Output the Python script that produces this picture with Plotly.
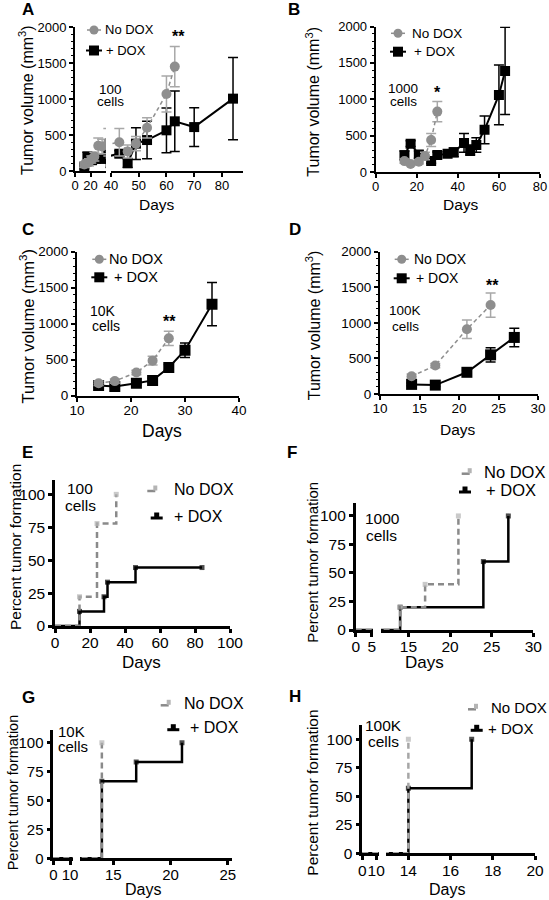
import plotly.graph_objects as go

W, H = 549, 900
FONT = "Arial, 'Liberation Sans', Helvetica, sans-serif"
GREY = "#8e8e8e"
GREY_ERR = "#a8a8a8"
KM_GREY = "#8a8a8a"
KM_GREY_MK = "#b4b4b4"
BLACK = "#000000"

# ---------------- data ----------------
# A: 100 cells
a_nd_days = [12, 15, 18, 21, 25, 30, 35, 43, 46, 49, 53, 60, 63]
a_nd_vol = [90, 110, 120, 160, 200, 350, 340, 400, 270, 380, 600, 1070, 1450]
a_nd_err = [40, 40, 50, 50, 60, 110, 100, 190, 90, 100, 140, 250, 280]
a_dx_days = [12, 16, 22, 27, 35, 43, 46, 49, 53, 60, 63, 70, 84]
a_dx_vol = [60, 200, 150, 170, 170, 240, 110, 380, 430, 565, 690, 610, 1005]
a_dx_err = [30, 60, 50, 40, 60, 40, 60, 220, 260, 310, 420, 270, 570]
# B: 1000 cells
b_nd_days = [14, 17, 21, 24, 27, 30]
b_nd_vol = [150, 110, 140, 220, 440, 830]
b_nd_err = [30, 20, 30, 50, 90, 140]
b_dx_days = [14, 17, 21, 27, 30, 35, 38, 43, 46, 49, 53, 60, 63]
b_dx_vol = [230, 390, 240, 150, 235, 250, 270, 400, 300, 370, 580, 1060, 1390]
b_dx_err = [60, 40, 50, 30, 40, 30, 60, 130, 70, 100, 190, 410, 600]
# C: 10K cells
c_nd_days = [14, 17, 21, 24, 27]
c_nd_vol = [170, 200, 320, 485, 795]
c_nd_err = [30, 30, 30, 60, 100]
c_dx_days = [14, 17, 21, 24, 27, 30, 35]
c_dx_vol = [140, 125, 170, 210, 390, 630, 1270]
c_dx_err = [25, 20, 25, 30, 40, 100, 300]
# D: 100K cells
d_nd_days = [14, 17, 21, 24]
d_nd_vol = [250, 400, 910, 1250]
d_nd_err = [30, 30, 130, 170]
d_dx_days = [14, 17, 21, 24, 27]
d_dx_vol = [135, 125, 305, 550, 795]
d_dx_err = [20, 20, 30, 100, 130]
# E-H: percent tumor formation (step curves)
e_nd_days = [0, 14, 24, 35]
e_nd_pct = [0, 22.2, 77.8, 100]
e_dx_days = [0, 14, 28, 30, 46, 84]
e_dx_pct = [0, 11.1, 22.2, 33.3, 44.4, 44.4]
f_nd_days = [0, 14, 17, 21]
f_nd_pct = [0, 20, 40, 100]
f_dx_days = [0, 14, 24, 27]
f_dx_pct = [0, 20, 60, 100]
g_nd_days = [0, 14]
g_nd_pct = [0, 100]
g_dx_days = [0, 14, 17, 21]
g_dx_pct = [0, 66.7, 83.3, 100]
h_nd_days = [0, 14]
h_nd_pct = [0, 100]
h_dx_days = [0, 14, 17]
h_dx_pct = [0, 57.1, 100]

labels = ["No DOX", "+ DOX"]

# ---------------- layout helpers ----------------
fig = go.Figure()
layout = dict(width=W, height=H, margin=dict(l=0, r=0, t=0, b=0),
              paper_bgcolor="white", plot_bgcolor="rgba(0,0,0,0)",
              showlegend=False, font=dict(family=FONT, color="black"))
annotations = []
shapes = []
cnt = {"x": 0, "y": 0}


def nm(kind, i):
    return kind + ("" if i == 1 else str(i))


def lay(kind, i):
    return kind + "axis" + ("" if i == 1 else str(i))


def add_panel(ypx, yrange, ydtick, xsegs, tf, lw, minor=None):
    cnt["y"] += 1
    yid = cnt["y"]
    xids = []
    for (x0, x1, xr, xt) in xsegs:
        cnt["x"] += 1
        xids.append(cnt["x"])
        layout[lay("x", cnt["x"])] = dict(
            domain=[x0 / W, x1 / W], range=xr, tickmode="array", tickvals=xt,
            anchor=nm("y", yid), showline=True, linewidth=lw, linecolor="black",
            ticks="outside", ticklen=4, tickwidth=lw, tickcolor="black",
            tickangle=0, ticklabelstandoff=-3,
            tickfont=dict(size=tf, family=FONT, color="black"),
            showgrid=False, zeroline=False, automargin=False, fixedrange=True)
    yd = dict(domain=[1 - ypx[1] / H, 1 - ypx[0] / H], range=yrange,
              tick0=0, dtick=ydtick, anchor=nm("x", xids[0]), showline=True,
              linewidth=lw, linecolor="black", ticks="outside", ticklen=4,
              tickwidth=lw, tickcolor="black",
              tickfont=dict(size=tf, family=FONT, color="black"),
              showgrid=False, zeroline=False, automargin=False, fixedrange=True)
    if minor:
        yd["minor"] = dict(dtick=minor, tick0=0, ticklen=2, tickwidth=1,
                           ticks="outside", tickcolor="black", showgrid=False)
    layout[lay("y", yid)] = yd
    return [(nm("x", i), nm("y", yid)) for i in xids]


def add_series(refs, x, y, err, color, errcolor, symbol, msize, dash, lw):
    for xr, yr in refs:
        fig.add_trace(go.Scatter(
            x=x, y=y, xaxis=xr, yaxis=yr, mode="lines+markers",
            line=dict(color=color, width=lw, dash=dash),
            marker=dict(symbol=symbol, size=msize, color=color, line=dict(width=0)),
            error_y=dict(type="data", array=err, color=errcolor, thickness=1.5, width=5),
            cliponaxis=True, hoverinfo="skip"))


def add_km(refs, x, y, color, mkcolor, dash, lw):
    sizes = [0] + [5] * (len(x) - 1)
    for xr, yr in refs:
        fig.add_trace(go.Scatter(
            x=x, y=y, xaxis=xr, yaxis=yr, mode="lines+markers",
            line=dict(color=color, width=lw, dash=dash, shape="hv"),
            marker=dict(symbol="square", size=sizes, color=mkcolor, line=dict(width=0)),
            cliponaxis=True, hoverinfo="skip"))


def text(px, py, s, size, xanchor="center", angle=0, bold=False):
    annotations.append(dict(
        x=px / W, y=1 - py / H, xref="paper", yref="paper",
        text=("<b>%s</b>" % s) if bold else s, showarrow=False,
        font=dict(size=size, family=FONT, color="black"),
        xanchor=xanchor, yanchor="middle", textangle=angle))


def rect(cx, cy, w, h, color, kind="rect"):
    shapes.append(dict(type=kind, xref="paper", yref="paper",
                       x0=(cx - w / 2) / W, x1=(cx + w / 2) / W,
                       y0=1 - (cy + h / 2) / H, y1=1 - (cy - h / 2) / H,
                       fillcolor=color, line=dict(width=0)))


def hline(x0, x1, y, color, width, dash="solid"):
    shapes.append(dict(type="line", xref="paper", yref="paper",
                       x0=x0 / W, x1=x1 / W, y0=1 - y / H, y1=1 - y / H,
                       line=dict(color=color, width=width, dash=dash)))


def legend_ad(cx, cy1, tx1, cy2, tx2, size):
    hline(cx - 7, cx + 7, cy1, GREY, 1.5)
    rect(cx, cy1, 9, 9, GREY, "circle")
    text(tx1, cy1, labels[0], size, xanchor="left")
    hline(cx - 8, cx + 8, cy2, BLACK, 2)
    rect(cx, cy2, 10, 10, BLACK)
    text(tx2, cy2, labels[1], size, xanchor="left")


def legend_km(cx1, cy1, tx1, cx2, cy2, tx2, size):
    hline(cx1 - 6, cx1 + 2, cy1 + 2, KM_GREY, 2.5)
    rect(cx1 + 2, cy1 - 1, 4, 5, KM_GREY_MK)
    text(tx1, cy1, labels[0], size, xanchor="left")
    hline(cx2 - 6, cx2 + 6, cy2 + 2, BLACK, 3)
    rect(cx2, cy2 - 1, 5, 5, BLACK)
    text(tx2, cy2, labels[1], size, xanchor="left")


YT = "Tumor volume (mm<sup>3</sup>)"
PT = "Percent tumor formation"

# ---------------- panel A ----------------
refA = add_panel((27, 171), [0, 2000], 500,
                 [(75, 106, [0, 40], [0, 20]),
                  (111, 243, [40, 87.6], [40, 50, 60, 70, 80])], 13, 2, minor=100)
add_series(refA, a_dx_days, a_dx_vol, a_dx_err, BLACK, BLACK, "square", 10, "solid", 2)
add_series(refA, a_nd_days, a_nd_vol, a_nd_err, GREY, GREY_ERR, "circle", 10, "4px,3px", 1.5)
text(28, 10, "A", 17, bold=True)
text(26, 100, YT, 16, angle=-90)
text(157, 204, "Days", 15.5)
legend_ad(94, 30, 103, 50.5, 104, 13)
text(110, 89, "100", 13.5)
text(110, 101.5, "cells", 13.5)
text(178, 36, "**", 16, bold=True)

# ---------------- panel B ----------------
refB = add_panel((26.5, 172), [0, 2000], 500,
                 [(375.7, 540, [0, 80], [0, 20, 40, 60, 80])], 13, 2, minor=100)
add_series(refB, b_dx_days, b_dx_vol, b_dx_err, BLACK, BLACK, "square", 10, "solid", 2)
add_series(refB, b_nd_days, b_nd_vol, b_nd_err, GREY, GREY_ERR, "circle", 10, "4px,3px", 1.5)
text(293.5, 10, "B", 17, bold=True)
text(312.7, 102, YT, 16, angle=-90)
text(461, 204, "Days", 15.5)
legend_ad(398, 33.3, 410, 51.7, 412, 13.5)
text(403, 88.5, "1000", 13.5)
text(403, 101.5, "cells", 13.5)
text(437.7, 93, "*", 16, bold=True)

# ---------------- panel C ----------------
refC = add_panel((251.7, 395.5), [0, 2000], 500,
                 [(77, 239, [10, 40], [10, 20, 30, 40])], 13.5, 2, minor=100)
add_series(refC, c_dx_days, c_dx_vol, c_dx_err, BLACK, BLACK, "square", 11, "solid", 2)
add_series(refC, c_nd_days, c_nd_vol, c_nd_err, GREY, GREY_ERR, "circle", 10, "4px,3px", 1.5)
text(28, 230, "C", 17, bold=True)
text(26.7, 326.7, YT, 16.5, angle=-90)
text(162, 430.7, "Days", 17.5)
legend_ad(99.3, 259.3, 107.3, 277.3, 112, 14.5)
text(103.3, 310.7, "10K", 14)
text(106, 326, "cells", 14)
text(170, 321, "**", 16, bold=True)

# ---------------- panel D ----------------
refD = add_panel((251.7, 394), [0, 2000], 500,
                 [(380, 538, [10, 30], [10, 15, 20, 25, 30])], 13.5, 2, minor=100)
add_series(refD, d_dx_days, d_dx_vol, d_dx_err, BLACK, BLACK, "square", 11, "solid", 2)
add_series(refD, d_nd_days, d_nd_vol, d_nd_err, GREY, GREY_ERR, "circle", 10, "4px,3px", 1.5)
text(295, 230, "D", 17, bold=True)
text(313.3, 325, YT, 16, angle=-90)
text(458.3, 429.3, "Days", 15.5)
legend_ad(401.7, 259.3, 411.7, 278.3, 414.3, 14)
text(405, 310.7, "100K", 13.5)
text(405, 326, "cells", 13.5)
text(492.3, 286, "**", 16, bold=True)

# ---------------- panel E ----------------
refE = add_panel((480, 626), [0, 110.9], 25,
                 [(55, 230, [0, 100], [0, 20, 40, 60, 80, 100])], 15.5, 2.5)
add_km(refE, e_dx_days, e_dx_pct, BLACK, BLACK, "solid", 2.5)
add_km(refE, e_nd_days, e_nd_pct, KM_GREY, KM_GREY_MK, "6px,4px", 2.5)
text(27.5, 452, "E", 17, bold=True)
text(15, 547, PT, 15.5, angle=-90)
text(141.7, 662, "Days", 17)
legend_km(153.3, 489, 171.7, 156.7, 516, 171.7, 16)
text(80, 488.3, "100", 15.5)
text(80, 505, "cells", 15.5)

# ---------------- panel F ----------------
refF = add_panel((502.7, 630), [0, 111.6], 25,
                 [(355.7, 373, [0, 5.4], [0, 5]),
                  (381, 533.3, [11.7, 30], [15, 20, 25, 30])], 15.5, 2.5)
add_km(refF, f_dx_days, f_dx_pct, BLACK, BLACK, "solid", 2.5)
add_km(refF, f_nd_days, f_nd_pct, KM_GREY, KM_GREY_MK, "6px,4px", 2.5)
text(292, 452, "F", 17, bold=True)
text(311.7, 562, PT, 15, angle=-90)
text(424, 662, "Days", 17)
legend_km(467.7, 471.7, 482.3, 465, 490, 484.3, 16.5)
text(382.3, 518.3, "1000", 15.5)
text(381.7, 535, "cells", 15.5)

# ---------------- panel G ----------------
refG = add_panel((730, 858.3), [0, 111], 25,
                 [(53.3, 72.7, [0, 11.6], [0, 10]),
                  (80, 232, [12.09, 25.37], [15, 20, 25])], 15, 2.5)
add_km(refG, g_dx_days, g_dx_pct, BLACK, BLACK, "solid", 2.5)
add_km(refG, g_nd_days, g_nd_pct, KM_GREY, KM_GREY_MK, "6px,4px", 2.5)
text(28, 697, "G", 17, bold=True)
text(13.3, 792, PT, 14.5, angle=-90)
text(143.3, 889, "Days", 16)
legend_km(166.7, 703.3, 181.7, 173.3, 727.7, 188.3, 16)
text(71.7, 731.7, "10K", 15)
text(72.7, 746.7, "cells", 15)

# ---------------- panel H ----------------
refH = add_panel((725, 853.3), [0, 112.5], 25,
                 [(362.3, 379, [0, 12], [0, 10]),
                  (386, 535, [12.94, 20], [14, 16, 18, 20])], 15.5, 2.5)
add_km(refH, h_dx_days, h_dx_pct, BLACK, BLACK, "solid", 2.5)
add_km(refH, h_nd_days, h_nd_pct, "#a6a6a6", KM_GREY_MK, "6px,4px", 2.5)
text(295, 696, "H", 17, bold=True)
text(311.7, 793, PT, 15.5, angle=-90)
text(446.7, 889, "Days", 16)
legend_km(474, 707.3, 489, 476.7, 728.3, 485.7, 15)
text(383.3, 725, "100K", 15.5)
text(383.3, 741, "cells", 15.5)

layout["annotations"] = annotations
layout["shapes"] = shapes
fig.update_layout(**layout)
fig.write_html("out.html")
